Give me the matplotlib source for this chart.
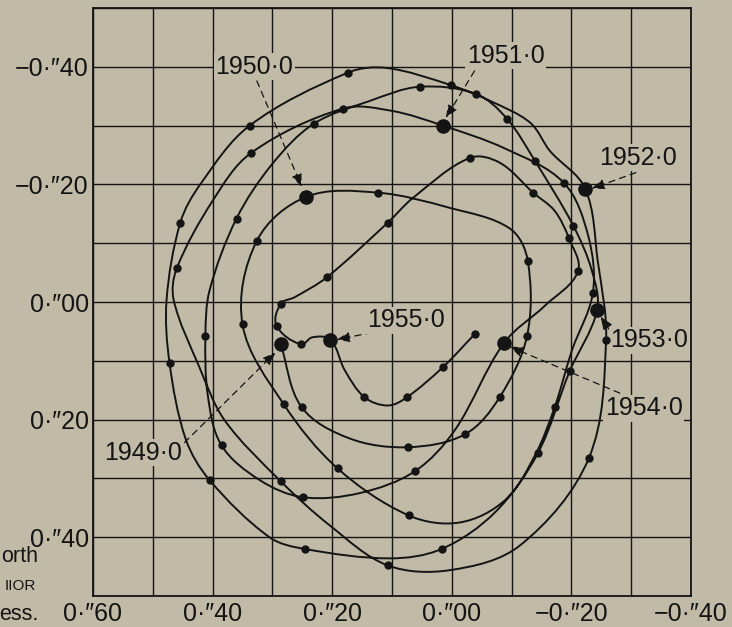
import numpy as np
import matplotlib
matplotlib.use("Agg")
import matplotlib.pyplot as plt
from matplotlib.path import Path
from matplotlib.patches import PathPatch
from matplotlib.ticker import MultipleLocator

plt.rcParams['font.family'] = ['Liberation Sans', 'DejaVu Sans']

BG = '#c0baa6'
INK = '#141414'

# pole track in arcsec (x, y, kind)
# kind: 0 = curve only, 1 = tenth-of-year dot, 2 = start of year, 3 = last point
track_1949 = [(0.286, 0.072, 2), (0.251, 0.179, 1), (0.171, 0.232, 0), (0.074, 0.247, 1),
              (-0.022, 0.225, 1), (-0.080, 0.162, 1), (-0.126, 0.057, 1), (-0.127, -0.070, 1),
              (-0.097, -0.125, 0), (0.003, -0.160, 0), (0.124, -0.186, 1)]
track_1950 = [(0.243, -0.179, 2), (0.326, -0.104, 1), (0.350, 0.038, 1), (0.281, 0.174, 1),
              (0.191, 0.283, 1), (0.072, 0.363, 1), (-0.013, 0.375, 0), (-0.089, 0.337, 0),
              (-0.139, 0.261, 0), (-0.172, 0.179, 1), (-0.201, 0.082, 0), (-0.236, -0.016, 1),
              (-0.228, -0.113, 0), (-0.187, -0.203, 1), (-0.089, -0.261, 0)]
track_1951 = [(0.015, -0.300, 2), (0.100, -0.325, 0), (0.182, -0.329, 1), (0.335, -0.254, 1),
              (0.400, -0.172, 0), (0.460, -0.057, 1), (0.465, -0.003, 0), (0.422, 0.111, 0),
              (0.380, 0.201, 0), (0.286, 0.305, 1), (0.204, 0.380, 0), (0.107, 0.448, 1),
              (0.003, 0.456, 0), (-0.114, 0.414, 0), (-0.229, 0.266, 1), (-0.258, 0.065, 1),
              (-0.244, -0.070, 0)]
track_1952 = [(-0.223, -0.193, 2), (-0.164, -0.257, 0), (-0.131, -0.305, 0), (-0.064, -0.342, 0),
              (0.002, -0.369, 1), (0.109, -0.398, 0), (0.174, -0.390, 1), (0.338, -0.300, 1),
              (0.420, -0.201, 0), (0.454, -0.135, 1), (0.477, -0.003, 0), (0.472, 0.104, 1),
              (0.445, 0.233, 0), (0.405, 0.303, 1), (0.305, 0.400, 0), (0.246, 0.420, 1),
              (0.104, 0.436, 0), (0.017, 0.420, 1), (-0.072, 0.358, 0), (-0.144, 0.257, 1),
              (-0.197, 0.118, 1)]
track_1953 = [(-0.243, 0.014, 2), (-0.234, -0.054, 0), (-0.203, -0.130, 1), (-0.139, -0.240, 1),
              (-0.092, -0.312, 1), (-0.040, -0.354, 1), (0.054, -0.366, 1), (0.137, -0.342, 0),
              (0.231, -0.303, 1), (0.300, -0.235, 0), (0.360, -0.142, 1), (0.405, -0.020, 0),
              (0.412, 0.057, 1), (0.408, 0.159, 0), (0.385, 0.244, 1), (0.321, 0.303, 0),
              (0.249, 0.332, 1), (0.154, 0.325, 0), (0.062, 0.288, 1), (-0.005, 0.218, 0)]
track_1954 = [(-0.087, 0.070, 2), (-0.156, 0.006, 0), (-0.211, -0.052, 1), (-0.196, -0.108, 1),
              (-0.172, -0.155, 0), (-0.136, -0.186, 1), (-0.080, -0.237, 0), (-0.030, -0.245, 1),
              (0.065, -0.177, 0), (0.107, -0.135, 1), (0.209, -0.042, 1), (0.263, -0.008, 0),
              (0.286, 0.003, 1), (0.293, 0.040, 1), (0.253, 0.072, 1), (0.233, 0.060, 0)]
track_1955 = [(0.203, 0.064, 2), (0.179, 0.116, 0), (0.146, 0.162, 1), (0.107, 0.176, 0),
              (0.075, 0.162, 1), (0.015, 0.111, 1), (-0.038, 0.055, 3)]

year_labels = ["1949·0", "1950·0", "1951·0", "1952·0", "1953·0", "1954·0", "1955·0"]
label_pos = [(0.517, 0.256), (0.330, -0.400), (-0.090, -0.419), (-0.311, -0.245),
             (-0.330, 0.065), (-0.321, 0.181), (0.077, 0.031)]
leader_from = [(0.447, 0.239), (0.326, -0.376), (-0.038, -0.393), (-0.308, -0.220),
               (-0.264, 0.048), (-0.281, 0.155), (0.115, 0.048)]
leader_to = [(0.295, 0.086), (0.251, -0.196), (0.010, -0.313), (-0.234, -0.193),
             (-0.249, 0.025), (-0.097, 0.076), (0.192, 0.064)]

x_ticks = [0.6, 0.4, 0.2, 0.0, -0.2, -0.4]
x_tick_labels = ["0·″60", "0·″40", "0·″20", "0·″00", "−0·″20", "−0·″40"]
y_ticks = [-0.4, -0.2, 0.0, 0.2, 0.4]
y_tick_labels = ["−0·″40", "−0·″20", "0·″00", "0·″20", "0·″40"]


def smooth_path(pts):
    """Bezier path through the points, tangents from neighbours, handles a third of the chord."""
    P = np.asarray(pts, dtype=float)
    n = len(P)
    tang = np.zeros_like(P)
    for i in range(n):
        d = P[min(i + 1, n - 1)] - P[max(i - 1, 0)]
        tang[i] = d / np.hypot(*d)
    verts = [P[0]]
    codes = [Path.MOVETO]
    for i in range(n - 1):
        L = np.hypot(*(P[i + 1] - P[i]))
        verts += [P[i] + tang[i] * L / 3, P[i + 1] - tang[i + 1] * L / 3, P[i + 1]]
        codes += [Path.CURVE4] * 3
    return Path(verts, codes)


track = track_1949 + track_1950 + track_1951 + track_1952 + track_1953 + track_1954 + track_1955
tx = np.array([p[0] for p in track])
ty = np.array([p[1] for p in track])
kind = np.array([p[2] for p in track])

W, H = 732, 627
fig = plt.figure(figsize=(W / 100, H / 100), dpi=100, facecolor=BG)
ax = fig.add_axes([93 / W, 1 - 596 / H, (691 - 93) / W, (596 - 8) / H])
ax.set_facecolor(BG)
ax.set_xlim(0.60, -0.40)
ax.set_ylim(0.50, -0.50)

ax.set_xticks(x_ticks)
ax.set_xticklabels(x_tick_labels)
ax.set_yticks(y_ticks)
ax.set_yticklabels(y_tick_labels)
ax.xaxis.set_minor_locator(MultipleLocator(0.1))
ax.yaxis.set_minor_locator(MultipleLocator(0.1))
ax.grid(which='both', color=INK, lw=1.0)
ax.set_axisbelow(True)
ax.tick_params(which='both', length=0, labelsize=18, colors=INK)
ax.tick_params(axis='x', pad=4)
ax.tick_params(axis='y', pad=3)
for s in ax.spines.values():
    s.set_linewidth(1.3)
    s.set_color(INK)

ax.add_patch(PathPatch(smooth_path(np.column_stack([tx, ty])), fill=False,
                       ec=INK, lw=1.4, zorder=4, capstyle='round', joinstyle='round'))
small = (kind == 1) | (kind == 3)
ax.plot(tx[small], ty[small], 'o', ms=5, color=INK, zorder=5)
ax.plot(tx[kind == 2], ty[kind == 2], 'o', ms=9.5, color=INK, zorder=5)

for lab, pos, a, b in zip(year_labels, label_pos, leader_from, leader_to):
    ls = '-' if lab == "1953·0" else (0, (5, 4))
    ax.annotate('', xy=b, xytext=a, zorder=3,
                arrowprops=dict(arrowstyle='-|>,head_length=0.55,head_width=0.22',
                                color=INK, lw=0.9, ls=ls, mutation_scale=14,
                                shrinkA=0, shrinkB=0))
    ax.text(pos[0], pos[1], lab, fontsize=18, ha='center', va='center', color=INK,
            zorder=3, bbox=dict(boxstyle='square,pad=0.06', fc=BG, ec='none'))

# pieces of the cropped caption at the left edge
fig.text(38 / W, 1 - 557 / H, "orth", ha='right', va='center', fontsize=15.5, color=INK)
fig.text(36 / W, 1 - 586 / H, "IIOR", ha='right', va='center', fontsize=11, color=INK)
fig.text(38 / W, 1 - 615 / H, "ess.", ha='right', va='center', fontsize=15.5, color=INK)

fig.savefig("out.png", dpi=100, facecolor=BG)
